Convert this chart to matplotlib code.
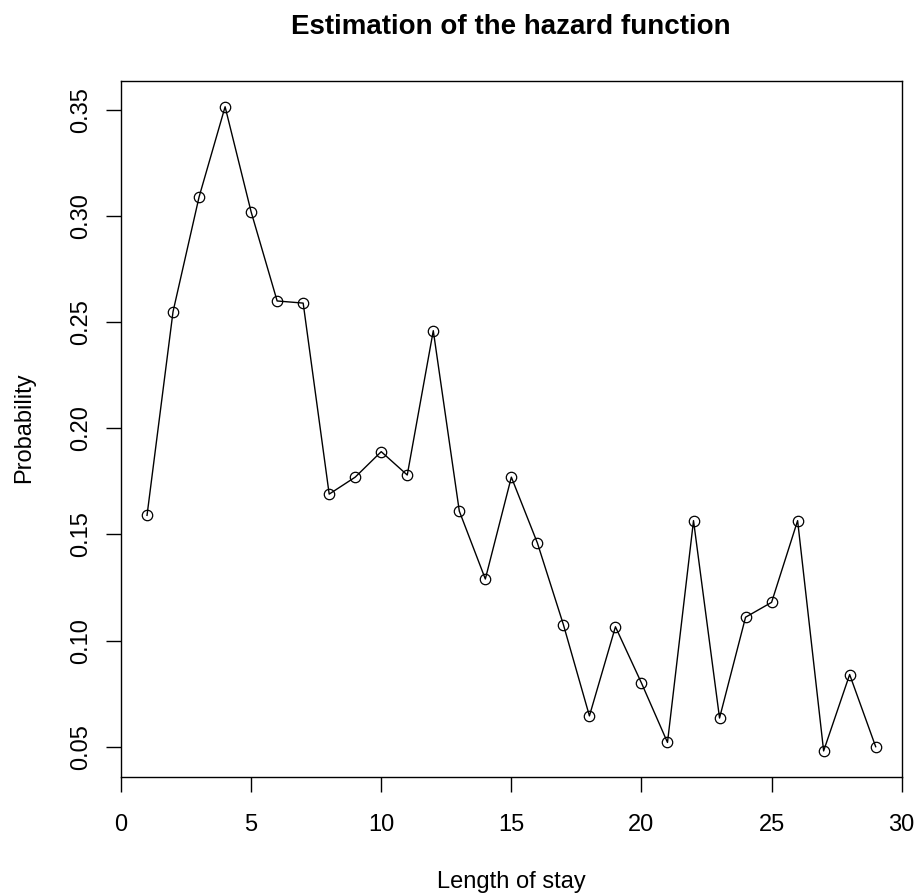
"""Hazard function estimate, R base-graphics look."""

import numpy as np
import matplotlib
matplotlib.use('Agg')
import matplotlib.pyplot as plt

plt.rcParams['font.family'] = ['Liberation Sans', 'DejaVu Sans']

# data
stay = np.arange(1, 30)
prob = [0.159, 0.255, 0.309, 0.3515, 0.302, 0.260, 0.259, 0.169, 0.177,
        0.189, 0.178, 0.246, 0.161, 0.129, 0.177, 0.146, 0.1075, 0.0645,
        0.1065, 0.080, 0.052, 0.1565, 0.0635, 0.111, 0.118, 0.1565,
        0.048, 0.084, 0.050]
x_ticks = [0, 5, 10, 15, 20, 25, 30]
y_ticks = [0.05, 0.10, 0.15, 0.20, 0.25, 0.30, 0.35]

W, H = 915, 893
fig = plt.figure(figsize=(W / 100, H / 100), dpi=100)

# plot region in pixels: left, right, top, bottom
left, right, top, bottom = 121, 901.7, 81, 776.7
ax = fig.add_axes([left / W, 1 - bottom / H, (right - left) / W,
                   (bottom - top) / H])

ax.plot(stay, prob, color='black', lw=1.0, marker='o', ms=7.5,
        mfc='none', mec='black', mew=0.9)

# R style 4% padding on y, x fixed 0..30
rng = max(prob) - min(prob)
ax.set_ylim(min(prob) - 0.04 * rng, max(prob) + 0.04 * rng)
ax.set_xlim(0, 30)

ax.set_xticks(x_ticks)
ax.set_xticklabels([str(t) for t in x_ticks])
ax.set_yticks(y_ticks)
ax.set_yticklabels(['%.2f' % t for t in y_ticks], rotation=90, va='center')

ax.tick_params(axis='both', direction='out', length=11, width=1.0,
               labelsize=17)
ax.tick_params(axis='x', pad=16)
ax.tick_params(axis='y', pad=10)
for s in ax.spines.values():
    s.set_linewidth(1.0)

fig.text(511 / W, 1 - 34 / H, 'Estimation of the hazard function',
         ha='center', va='baseline', fontsize=20, fontweight='bold')
fig.text(511 / W, 1 - 888 / H, 'Length of stay', ha='center',
         va='baseline', fontsize=17)
fig.text(24 / W, 1 - 428 / H, 'Probability', ha='center', va='center',
         rotation=90, fontsize=17)

fig.savefig('out.png', dpi=100)
